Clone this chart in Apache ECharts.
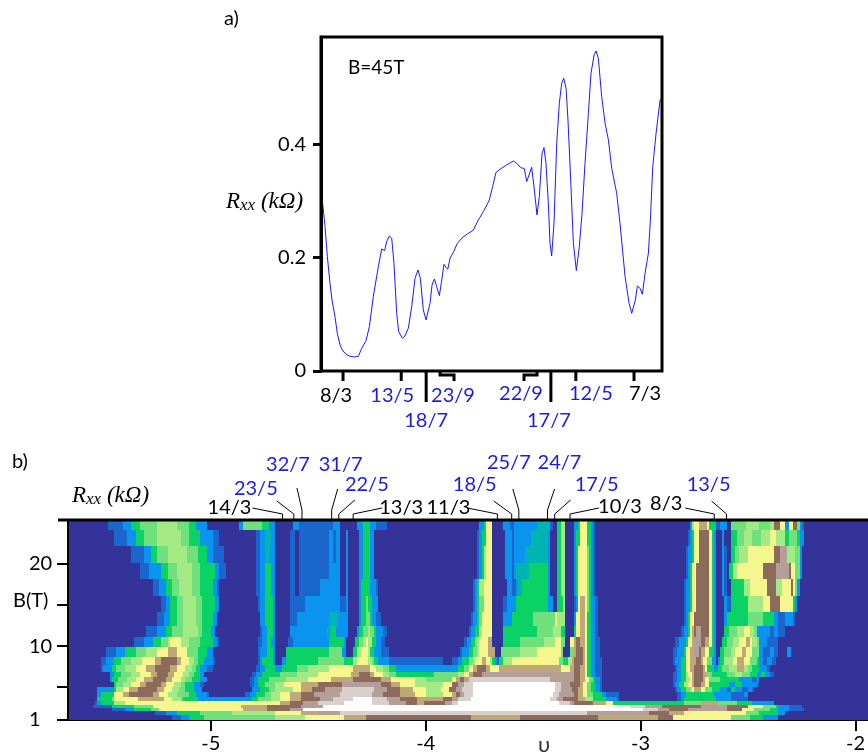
<!DOCTYPE html>
<html><head><meta charset="utf-8">
<script src="https://cdn.jsdelivr.net/npm/echarts@6/dist/echarts.min.js"></script>
<style>html,body{margin:0;padding:0;background:#fff}#c{width:868px;height:754px}</style></head>
<body><div id="c"></div>
<script>
// ---------- panel a) data: filling factor and Rxx (kOhm) at B = 45 T
const lineNu = [2.6900,2.6873,2.6846,2.6816,2.6793,2.6759,2.6732,2.6701,2.6675,2.6633,2.6587,2.6537,2.6491,2.6453,2.6403,2.6365,2.6320,2.6262,2.6224,2.6205,2.6190,2.6167,2.6136,2.6109,2.6083,2.6052,2.6029,2.5987,2.5957,2.5919,2.5880,2.5842,2.5808,2.5781,2.5747,2.5716,2.5697,2.5670,2.5647,2.5620,2.5594,2.5563,2.5536,2.5510,2.5487,2.5467,2.5441,2.5403,2.5357,2.5296,2.5242,2.5173,2.5116,2.5059,2.5013,2.4991,2.4953,2.4915,2.4869,2.4792,2.4716,2.4678,2.4632,2.4590,2.4563,2.4544,2.4506,2.4475,2.4445,2.4418,2.4387,2.4365,2.4342,2.4315,2.4296,2.4277,2.4250,2.4219,2.4189,2.4162,2.4139,2.4112,2.4090,2.4059,2.4028,2.3994,2.3960,2.3929,2.3895,2.3856,2.3826,2.3791,2.3769,2.3742,2.3704,2.3665,2.3627,2.3589,2.3532,2.3494,2.3436,2.3390,2.3360,2.3341,2.3318,2.3295,2.3264,2.3238,2.3207,2.3169,2.3146,2.3119,2.3081,2.3035,2.3016];
const lineRxx = [.2957,.2546,.2016,.1546,.1252,.0958,.0664,.0459,.0370,.0294,.0259,.0247,.0259,.0400,.0535,.0782,.1311,.1840,.2152,.2134,.2122,.2281,.2381,.2340,.1899,.1017,.0694,.0576,.0617,.0753,.1135,.1635,.1782,.1635,.1076,.0900,.0929,.1194,.1517,.1623,.1488,.1329,.1605,.1882,.1829,.1793,.1987,.2093,.2252,.2358,.2417,.2487,.2664,.2811,.2946,.3016,.3252,.3499,.3557,.3634,.3704,.3663,.3587,.3569,.3340,.3328,.3593,.3193,.2752,.3075,.3840,.3940,.3663,.2958,.2252,.2029,.2605,.4016,.4722,.5074,.5163,.4986,.4428,.3369,.2252,.1770,.2193,.2781,.3663,.4545,.5251,.5574,.5645,.5515,.4839,.4369,.4075,.3575,.3134,.2605,.1664,.1194,.1017,.1005,.1252,.1499,.1458,.1352,.1723,.2076,.2664,.3604,.4192,.4781,.4810];
const topNames = ['8/3','13/5','18/7','23/9','22/9','17/7','12/5','7/3'];
const topNums  = [8,13,18,23,22,17,12,7];
const topDens  = [3,5,7,9,9,7,5,3];
const topBlue  = [0,1,1,1,1,1,1,0];

// ---------- panel b) data: contour level by B row, as [nu*100 start, level, ...] runs
const bEdges = [25.34,24.13,22.12,20.12,18.11,16.1,14.09,12.49,11.08,9.88,8.67,7.67,6.86,6.26,5.66,5.06,4.45,3.85,3.33,2.85,2.45,2.04,1.64,1];
const row00 = [-548,1,-541,2,-537,4,-533,5,-525,6,-516,5,-510,4,-507,2,-502,0,-487,2,-485,5,-476,4,-473,2,-470,0,-462,2,-459,1,-443,2,-440,0,-432,2,-429,4,-426,2,-423,1,-418,0,-375,2,-373,4,-372,7,-369,0,-364,2,-361,1,-359,2,-348,3,-342,1,-341,0,-339,4,-337,6,-335,0,-331,2,-329,4,-328,7,-325,4,-323,2,-322,1,-321,0,-277,2,-276,6,-275,7,-273,8,-269,7,-268,4,-265,1,-263,2,-260,0,-258,5,-251,6,-245,5,-240,6,-238,9,-235,7,-233,2,-231,7,-229,9,-227,5,-226,2,-225,1,-224,0];
const row01 = [-545,1,-539,2,-535,4,-531,5,-525,6,-514,5,-510,4,-505,2,-499,1,-496,0,-479,1,-477,2,-475,3,-472,2,-470,0,-463,1,-461,0,-459,1,-445,2,-443,1,-442,2,-440,0,-437,2,-436,0,-431,2,-429,4,-426,2,-424,0,-376,1,-375,2,-374,4,-372,7,-369,0,-363,2,-360,1,-359,2,-351,3,-343,2,-342,0,-339,4,-337,6,-335,0,-331,2,-330,4,-328,7,-325,4,-323,2,-322,1,-321,0,-278,1,-277,2,-276,4,-275,7,-273,9,-268,7,-267,4,-266,2,-265,0,-262,2,-261,0,-258,4,-255,5,-252,6,-248,5,-244,6,-240,7,-237,6,-233,4,-231,5,-227,4,-226,2,-224,0];
const row02 = [-537,1,-531,2,-528,4,-525,5,-520,6,-511,5,-506,4,-502,2,-499,1,-494,0,-479,1,-477,2,-475,3,-473,2,-470,0,-463,1,-461,0,-459,1,-445,2,-443,1,-442,2,-440,0,-437,2,-436,0,-431,2,-429,4,-426,2,-424,0,-376,1,-375,2,-374,4,-373,6,-372,7,-369,0,-363,2,-360,1,-359,2,-354,3,-343,2,-342,0,-339,4,-337,6,-335,0,-331,2,-330,4,-329,7,-325,5,-324,4,-323,2,-322,1,-321,0,-279,1,-278,2,-276,4,-275,7,-273,9,-268,7,-267,4,-266,2,-265,0,-262,2,-261,1,-260,0,-258,4,-256,5,-254,6,-250,7,-238,9,-235,10,-232,6,-228,5,-226,2,-225,0];
const row03 = [-533,1,-529,2,-523,4,-520,5,-516,6,-509,5,-505,4,-498,2,-496,1,-493,0,-479,1,-477,2,-475,4,-472,2,-470,0,-463,1,-461,0,-459,1,-445,2,-440,0,-437,2,-436,0,-431,2,-429,4,-426,2,-424,0,-376,1,-375,2,-374,4,-373,6,-372,7,-369,0,-363,2,-360,1,-359,2,-358,3,-352,4,-343,2,-342,0,-339,4,-337,6,-335,0,-331,2,-330,4,-329,7,-325,5,-324,4,-323,2,-322,1,-321,0,-279,1,-278,2,-277,4,-276,7,-274,9,-268,7,-267,4,-266,2,-265,0,-262,2,-261,1,-260,0,-259,4,-257,6,-255,7,-243,9,-237,10,-231,9,-230,7,-228,5,-226,2,-225,0];
const row04 = [-527,1,-524,2,-521,4,-518,5,-515,6,-509,5,-505,4,-499,2,-497,1,-496,0,-479,1,-477,2,-475,4,-472,2,-470,0,-463,1,-461,0,-459,1,-449,2,-440,0,-437,2,-436,0,-431,2,-430,4,-426,2,-423,1,-422,0,-378,1,-377,2,-376,4,-375,6,-373,7,-369,0,-362,2,-360,1,-358,2,-357,3,-355,4,-343,2,-342,0,-339,4,-337,6,-335,0,-331,2,-330,4,-329,7,-325,5,-324,4,-323,2,-322,1,-321,0,-280,1,-279,2,-277,4,-276,7,-274,9,-268,7,-267,4,-266,2,-265,0,-262,2,-261,1,-260,0,-258,4,-252,6,-249,7,-241,9,-237,6,-234,7,-230,9,-229,7,-228,5,-227,2,-226,0];
const row05 = [-523,1,-521,2,-519,4,-516,5,-513,6,-507,5,-504,4,-498,2,-496,0,-478,1,-477,2,-475,4,-471,2,-470,0,-463,1,-460,1,-456,2,-442,2,-440,1,-437,2,-436,0,-431,2,-430,4,-428,5,-427,4,-425,2,-422,0,-378,1,-377,2,-376,4,-375,5,-373,7,-369,0,-364,1,-362,2,-358,4,-343,2,-341,0,-339,4,-336,6,-335,0,-331,1,-330,2,-329,7,-328,8,-326,7,-325,5,-324,4,-323,2,-321,1,-320,0,-280,1,-279,2,-277,4,-276,7,-274,9,-268,7,-267,4,-266,2,-265,0,-261,2,-260,1,-258,4,-250,6,-243,7,-240,9,-235,7,-229,4,-228,2,-227,0];
const row06 = [-525,1,-522,2,-519,4,-516,5,-513,6,-507,5,-504,4,-499,2,-497,0,-477,2,-475,4,-471,2,-470,0,-463,1,-460,2,-445,3,-441,2,-436,0,-431,2,-430,4,-428,5,-426,4,-425,2,-423,1,-421,0,-379,1,-378,2,-376,4,-375,5,-374,7,-369,0,-364,2,-360,4,-350,5,-342,5,-340,7,-339,6,-335,0,-331,2,-330,7,-328,8,-326,7,-325,4,-323,2,-321,1,-320,0,-280,1,-279,2,-278,4,-277,7,-275,9,-268,7,-267,4,-266,2,-265,0,-261,2,-260,4,-250,5,-243,4,-238,2,-236,1,-233,2,-229,1,-228,0];
const row07 = [-530,1,-525,2,-521,4,-518,5,-513,6,-506,5,-504,4,-500,2,-498,0,-477,1,-476,2,-474,4,-471,2,-470,0,-463,2,-446,3,-444,4,-442,2,-436,0,-432,2,-431,4,-429,5,-427,6,-426,5,-424,4,-423,2,-420,1,-418,0,-380,1,-379,2,-377,4,-375,6,-374,7,-369,0,-364,4,-348,5,-341,6,-339,6,-337,4,-335,0,-331,4,-330,7,-328,8,-326,7,-325,4,-323,2,-321,1,-320,0,-281,1,-280,2,-278,4,-277,7,-276,8,-275,9,-274,10,-272,9,-268,7,-267,4,-266,2,-265,0,-261,4,-259,5,-255,6,-252,7,-249,6,-247,5,-246,2,-240,1,-238,2,-236,1,-233,0];
const row08 = [-536,1,-531,2,-527,4,-523,5,-520,6,-519,7,-514,6,-510,5,-505,4,-499,2,-497,1,-496,0,-478,1,-476,2,-474,4,-472,2,-470,0,-464,1,-462,2,-445,4,-438,2,-437,0,-433,4,-431,5,-429,6,-428,7,-427,6,-425,4,-423,2,-421,1,-419,0,-382,1,-381,2,-379,4,-377,5,-376,6,-375,7,-371,8,-369,0,-364,4,-356,5,-345,6,-340,7,-337,5,-335,0,-333,7,-331,8,-330,9,-328,8,-326,7,-325,4,-323,2,-321,1,-319,0,-284,1,-282,2,-279,4,-278,7,-276,8,-275,10,-272,9,-270,8,-268,7,-267,4,-266,2,-265,0,-262,4,-260,5,-257,6,-254,7,-251,8,-249,7,-248,6,-246,5,-245,2,-241,1,-236,0];
const row09 = [-549,1,-544,2,-540,4,-535,5,-530,6,-525,7,-520,8,-516,7,-511,5,-506,4,-502,2,-499,0,-478,1,-477,2,-474,4,-471,2,-470,0,-465,4,-445,5,-439,2,-437,0,-434,4,-432,6,-430,7,-427,6,-426,4,-424,2,-421,1,-417,0,-384,1,-383,2,-380,4,-378,5,-376,6,-375,7,-371,8,-368,0,-365,5,-356,6,-348,7,-337,5,-336,0,-333,5,-331,8,-330,9,-327,8,-326,7,-325,4,-323,2,-321,1,-319,0,-285,1,-283,2,-280,4,-279,7,-277,8,-275,10,-273,9,-272,8,-270,7,-268,4,-266,2,-265,0,-263,4,-261,5,-258,6,-256,7,-253,8,-251,7,-248,5,-245,2,-243,1,-240,2,-238,1,-236,0,-232,2,-230,0];
const row10 = [-551,1,-549,2,-545,4,-542,5,-537,6,-532,7,-526,8,-523,9,-516,8,-514,7,-510,6,-508,5,-506,4,-503,2,-499,1,-498,0,-478,1,-477,2,-476,4,-471,2,-470,0,-467,2,-465,4,-450,5,-441,5,-438,4,-434,6,-432,7,-427,6,-425,5,-424,4,-422,2,-417,1,-392,0,-388,1,-385,2,-383,4,-380,5,-378,6,-377,7,-374,8,-372,7,-370,6,-369,4,-368,2,-367,1,-366,4,-364,6,-360,7,-338,5,-336,4,-334,6,-332,8,-331,9,-327,8,-326,7,-325,4,-323,2,-321,1,-318,0,-285,1,-284,2,-281,4,-279,7,-277,8,-274,9,-272,8,-271,7,-269,5,-267,2,-265,0,-264,2,-263,4,-261,6,-257,7,-255,8,-252,7,-249,5,-246,4,-245,2,-243,1,-241,2,-239,1,-237,0];
const row11 = [-551,1,-550,2,-546,4,-544,5,-540,6,-535,7,-530,8,-526,9,-519,8,-516,7,-512,6,-509,5,-507,4,-505,2,-502,1,-499,0,-479,1,-477,2,-475,4,-470,2,-467,4,-460,5,-455,6,-445,7,-434,8,-427,8,-426,7,-423,6,-420,5,-417,4,-414,2,-385,4,-382,5,-380,7,-378,8,-376,9,-372,8,-370,7,-366,8,-340,8,-337,7,-333,8,-331,9,-328,8,-326,7,-325,4,-323,2,-321,1,-318,0,-284,1,-283,2,-281,4,-279,7,-277,8,-275,9,-271,8,-270,7,-269,4,-266,2,-264,4,-262,5,-259,6,-255,8,-252,6,-250,5,-248,4,-245,2,-241,1,-240,0];
const row12 = [-547,2,-545,4,-542,5,-537,6,-533,7,-528,8,-525,9,-520,8,-517,7,-513,6,-510,5,-508,4,-505,2,-503,0,-481,1,-479,2,-476,4,-468,5,-460,6,-450,7,-435,8,-431,9,-426,8,-424,7,-420,6,-417,5,-414,4,-396,5,-390,5,-385,6,-382,7,-380,8,-378,9,-374,10,-339,10,-331,9,-328,8,-326,7,-325,4,-323,2,-321,1,-318,0,-285,1,-283,2,-281,4,-279,6,-278,7,-276,8,-275,9,-271,8,-269,5,-267,4,-260,5,-256,6,-253,5,-249,4,-246,2,-244,4,-242,2,-240,1,-238,0];
const row13 = [-547,2,-546,4,-543,5,-539,6,-535,7,-531,8,-527,9,-521,8,-518,7,-514,6,-512,5,-509,4,-505,2,-502,0,-482,1,-480,2,-478,4,-473,5,-465,6,-455,7,-444,8,-434,9,-421,8,-416,7,-405,6,-400,5,-388,7,-386,8,-384,9,-382,10,-380,11,-345,11,-342,10,-331,9,-328,8,-326,7,-324,5,-322,4,-321,2,-319,1,-318,0,-285,1,-283,2,-281,4,-279,6,-277,7,-276,8,-275,9,-271,8,-270,7,-268,5,-263,4,-254,2,-248,1,-246,2,-245,0];
const row14 = [-545,4,-544,5,-541,6,-537,7,-533,8,-530,9,-523,8,-521,7,-517,6,-514,5,-512,4,-508,2,-505,1,-503,0,-482,1,-480,2,-478,4,-475,5,-470,6,-466,7,-458,8,-450,9,-439,10,-421,9,-416,8,-412,7,-405,6,-398,6,-392,7,-388,9,-385,10,-382,11,-378,12,-341,12,-340,11,-337,10,-333,9,-328,8,-327,7,-325,5,-323,4,-321,2,-319,1,-318,0,-285,1,-284,2,-282,4,-280,6,-278,7,-276,8,-275,9,-272,8,-270,7,-268,4,-259,2,-256,4,-253,2,-246,1,-245,0];
const row15 = [-553,2,-545,4,-544,6,-541,7,-538,8,-534,9,-525,8,-522,7,-518,6,-515,5,-512,4,-508,2,-504,0,-481,2,-477,4,-473,5,-470,6,-462,7,-458,8,-453,9,-447,10,-439,11,-424,10,-418,9,-412,8,-406,7,-400,6,-393,7,-389,9,-386,10,-383,11,-378,12,-341,12,-340,11,-337,10,-332,9,-329,8,-327,7,-325,5,-323,4,-321,2,-319,1,-318,0,-284,1,-283,2,-281,4,-279,5,-277,6,-276,7,-275,8,-272,7,-270,5,-267,4,-263,2,-260,1,-258,4,-256,2,-253,1,-250,2,-248,1,-247,0];
const row16 = [-553,2,-551,4,-545,7,-541,8,-538,9,-527,8,-524,7,-520,6,-516,5,-510,4,-507,2,-502,1,-501,0,-484,1,-482,2,-479,4,-475,5,-472,6,-468,7,-463,8,-458,9,-452,10,-440,11,-425,10,-420,9,-412,8,-405,7,-400,6,-392,7,-388,8,-386,9,-384,10,-382,11,-378,12,-341,11,-338,10,-331,9,-329,8,-327,7,-325,5,-322,4,-318,2,-316,1,-310,0,-283,1,-281,2,-279,4,-266,2,-258,1,-252,2,-250,0];
const row17 = [-553,4,-546,5,-545,7,-534,8,-522,7,-518,6,-514,5,-513,4,-506,2,-481,4,-478,5,-472,6,-468,7,-463,8,-458,9,-449,10,-443,11,-434,12,-425,11,-418,10,-412,9,-404,8,-392,9,-388,10,-385,11,-379,12,-342,11,-339,10,-336,9,-329,8,-326,6,-322,4,-316,2,-311,1,-310,0,-283,1,-281,2,-280,4,-265,2,-258,1,-250,0];
const row18 = [-554,1,-553,2,-551,4,-545,6,-540,7,-468,8,-463,9,-457,10,-450,11,-438,12,-425,11,-417,10,-409,9,-404,8,-401,9,-391,10,-388,11,-385,12,-338,11,-333,10,-331,9,-322,8,-316,7,-313,4,-280,5,-272,8,-264,5,-255,4,-248,2,-238,0];
const row19 = [-555,1,-546,4,-536,5,-527,7,-486,8,-474,9,-458,10,-448,12,-305,11,-298,10,-290,9,-272,10,-260,9,-250,7,-243,5,-237,4,-236,2,-231,1,-225,0];
const row20 = [-546,1,-540,2,-536,4,-528,5,-524,7,-485,8,-474,9,-463,10,-457,12,-299,11,-292,10,-287,9,-278,10,-260,9,-253,7,-247,5,-240,4,-236,2,-231,1,-224,0];
const row21 = [-526,1,-521,2,-516,4,-505,5,-490,6,-470,7,-458,8,-450,10,-440,11,-325,10,-296,9,-287,8,-280,7,-251,5,-245,4,-236,2,-233,0];
const row22 = [-518,1,-514,2,-510,4,-503,5,-470,6,-456,7,-438,8,-428,9,-379,8,-356,9,-320,8,-292,9,-285,7,-258,5,-249,4,-243,2,-236,0];
const rowRuns = [row00,row01,row02,row03,row04,row05,row06,row07,row08,row09,row10,row11,row12,row13,row14,row15,row16,row17,row18,row19,row20,row21,row22];
const levelColors = ['#333399','#1b66cc','#0a94f0','#00b4b4','#0ad264','#6fe07c','#a3ea84','#f6f68f','#bfa878','#8c6a5c','#b49f98','#d9cfcd','#ffffff'];

const fracNames = ['14/3','23/5','32/7','31/7','22/5','13/3','11/3','18/5','25/7','24/7','17/5','10/3','8/3','13/5'];
const fracNums  = [14,23,32,31,22,13,11,18,25,24,17,10,8,13];
const fracDens  = [3,5,7,7,5,3,3,5,7,7,5,3,3,5];
const fracBlue  = [0,1,1,1,1,0,0,1,1,1,1,0,0,1];
const yLabels = [1,10,20], yTicks = [1,5,10,15,20], xTicks = [-5,-4,-3,-2];

// ---------- styles / layout (pixel offsets from each fraction's anchor)
const FONT = 'Lato', BLUE = '#1c1ce0', FS = 20;
const topLeaders = [[[0,0],[0,10]],[[0,0],[0,10]],[[0,0],[0,31]],[[0,0],[0,4],[14,4],[14,10]],[[0,0],[0,4],[-13,4],[-13,10]],[[0,0],[0,31]],[[0,0],[0,10]],[[0,0],[0,10]]];
const topText = [[-7,25],[-9,25],[0,50],[13,25],[-16,23],[-2,50],[15,23],[11,23]];
const botLeaders = [[[0,0],[0,-6],[-30,-12]],[[-3,0],[-3,-6],[-20,-19]],[[-1,0],[-1,-10],[-6,-32]],[[-2,0],[-2,-10],[4,-31]],[[-1,0],[-1,-6],[15,-20]],[[-1,0],[-1,-6],[28,-12]],[[0,0],[0,-6],[-30,-12]],[[0,0],[0,-6],[-18,-19]],[[1,0],[1,-10],[-5,-31]],[[-1,0],[-1,-10],[6,-31]],[[0,0],[0,-6],[16,-20]],[[1,0],[1,-6],[30,-12]],[[2,0],[2,-6],[-27,-12]],[[0,0],[0,-6],[-15,-19]]];
const botText = [[-53,-12],[-41,-31],[-15,-55],[7,-55],[27,-35],[47,-12],[-49,-12],[-37,-35],[-9,-57],[11,-57],[42,-35],[51,-13],[-46,-16],[-18,-35]];

const chart = echarts.init(document.getElementById('c'), null, {renderer:'canvas'});

const heatCells = [];
rowRuns.forEach((r, i) => {
  const xs = [-566], ls = [0];
  for (let k = 0; k < r.length; k += 2) { xs.push(r[k]); ls.push(r[k+1]); }
  xs.push(-194);
  for (let k = 0; k < ls.length; k++) {
    if (xs[k+1] > xs[k]) heatCells.push([xs[k]/100, xs[k+1]/100, bEdges[i+1], bEdges[i], ls[k]]);
  }
});

function leaderItem(api, anchorY, pts, txt, label, blue, lw) {
  const x0 = api.coord([api.value(0), anchorY]);
  const p = pts.map(o => [x0[0]+o[0], x0[1]+o[1]]);
  return {type:'group', children:[
    {type:'polyline', shape:{points:p}, style:{stroke:'#000', lineWidth:lw, fill:null}},
    {type:'text', style:{text:label, x:x0[0]+txt[0], y:x0[1]+txt[1], align:'center', verticalAlign:'middle',
      font:FS+'px '+FONT, fill: blue ? BLUE : '#000'}}
  ]};
}

chart.setOption({
  animation:false,
  backgroundColor:'#fff',
  grid:[
    {left:321, top:37, width:341, height:334, show:true, borderColor:'#000', borderWidth:3, containLabel:false, z:5},
    {left:68, top:520, width:800, height:202, show:false}
  ],
  xAxis:[
    {gridIndex:0, type:'value', inverse:true, min:2.3013, max:2.6919, axisLine:{show:false}, axisTick:{show:false}, axisLabel:{show:false}, splitLine:{show:false}},
    {gridIndex:1, type:'value', min:-5.665, max:-1.944, position:'bottom',
      axisLine:{lineStyle:{color:'#000',width:2},onZero:false},
      axisTick:{customValues:xTicks,length:11,lineStyle:{color:'#000',width:2}},
      axisLabel:{customValues:xTicks,color:'#000',fontFamily:FONT,fontSize:FS,margin:14,showMinLabel:true,showMaxLabel:true}, splitLine:{show:false}}
  ],
  yAxis:[
    {gridIndex:0, type:'value', min:0, max:0.589, axisLine:{show:true,onZero:false,lineStyle:{color:'#000',width:3}},
      axisTick:{customValues:[0,0.2,0.4],length:8,lineStyle:{color:'#000',width:3}},
      axisLabel:{customValues:[0,0.2,0.4],color:'#000',fontFamily:FONT,fontSize:FS,margin:15,formatter:v=>v===0?'0':v.toFixed(1)}, splitLine:{show:false}},
    {gridIndex:1, type:'value', min:1, max:25.34, axisLine:{show:true,onZero:false,lineStyle:{color:'#000',width:2}},
      axisTick:{customValues:yTicks,length:11,lineStyle:{color:'#000',width:2}},
      axisLabel:{customValues:yLabels,color:'#000',fontFamily:FONT,fontSize:FS,margin:39,align:'left'}, splitLine:{show:false}}
  ],
  series:[
    {type:'line', xAxisIndex:0, yAxisIndex:0, data:lineNu.map((v,i)=>[v,lineRxx[i]]), showSymbol:false, smooth:false,
      lineStyle:{color:'#1a1aff',width:1}, clip:true, z:3},
    {type:'custom', name:'heat', xAxisIndex:1, yAxisIndex:1, coordinateSystem:'cartesian2d', progressive:0, clip:true,
      data:heatCells, encode:{x:[0,1],y:[2,3]},
      renderItem:(params,api)=>{
        const a=api.coord([api.value(0),api.value(3)]), b=api.coord([api.value(1),api.value(2)]);
        const x0=Math.round(a[0]), x1=Math.round(b[0]), y0=Math.round(a[1]), y1=Math.round(b[1]);
        return {type:'rect', shape:{x:x0,y:y0,width:x1-x0,height:y1-y0}, style:{fill:levelColors[api.value(4)]}};
      }, z:2},
    {type:'custom', name:'topTicks', xAxisIndex:0, yAxisIndex:0, coordinateSystem:'cartesian2d', progressive:0, clip:false, z:6,
      data:topNames.map((n,i)=>[topNums[i]/topDens[i],i]), encode:{x:0},
      renderItem:(params,api)=>{const i=api.value(1); return leaderItem(api,0,topLeaders[i],topText[i],topNames[i],topBlue[i],3);}},
    {type:'custom', name:'botLeaders', xAxisIndex:1, yAxisIndex:1, coordinateSystem:'cartesian2d', progressive:0, clip:false, z:6,
      data:fracNames.map((n,i)=>[-fracNums[i]/fracDens[i],i]), encode:{x:0},
      renderItem:(params,api)=>{const i=api.value(1); return leaderItem(api,25.34,botLeaders[i],botText[i],fracNames[i],fracBlue[i],1);}}
  ],
  graphic:[
    {type:'text',left:224,top:9,style:{text:'a)',font:FS+'px '+FONT,fill:'#000'}},
    {type:'text',left:12,top:452,style:{text:'b)',font:FS+'px '+FONT,fill:'#000'}},
    {type:'text',left:348,top:58,style:{text:'B=45T',font:'19px '+FONT,fill:'#000'}},
    {type:'text',left:13,top:591,style:{text:'B(T)',font:FS+'px '+FONT,fill:'#000'}},
    {type:'text',left:538,top:734,style:{text:'υ',font:'22px '+FONT,fill:'#333'}},
    {type:'line',shape:{x1:58,y1:520,x2:868,y2:520},style:{stroke:'#000',lineWidth:3},z:20},
    ...[[226,190],[72,484]].map(p=>({type:'text',left:p[0],top:p[1],z:20,style:{
      text:'{r|R}{s|xx}{r| (kΩ)}',
      rich:{r:{font:'italic 23px "Liberation Serif"',fill:'#000'},s:{font:'italic 17px "Liberation Serif"',fill:'#000',verticalAlign:'bottom',padding:[8,0,0,0]}}}}))
  ]
});
</script></body></html>
